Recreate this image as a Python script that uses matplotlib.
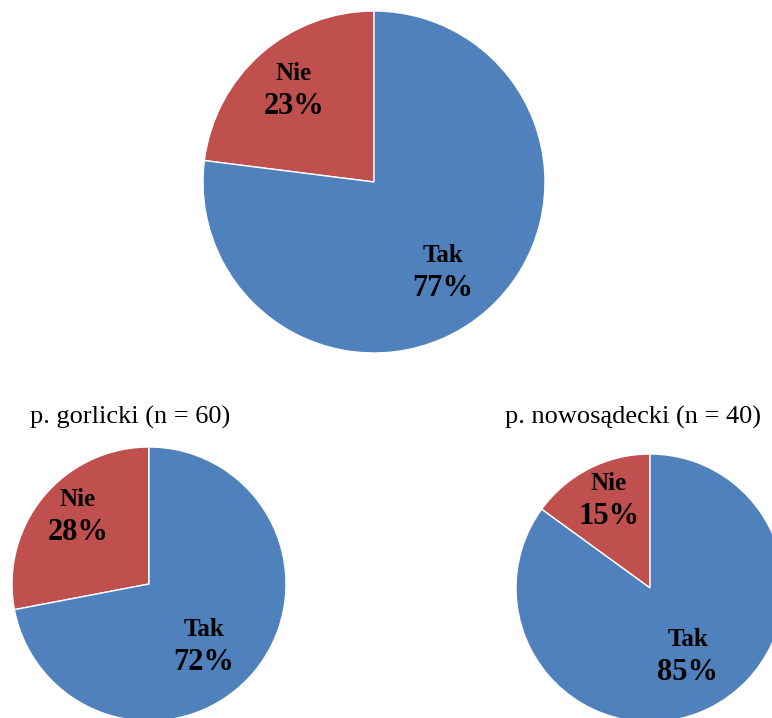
import matplotlib.pyplot as plt

plt.rcParams['font.family'] = ['Liberation Serif', 'DejaVu Serif']

categories = ['Nie', 'Tak']
total_values = [23, 77]
gorlicki_values = [28, 72]
nowosadecki_values = [15, 85]
subtitles = ['p. gorlicki (n = 60)', 'p. nowosądecki (n = 40)']

colors = ['#C0504D', '#4F81BD']
W, H = 772, 718

fig = plt.figure(figsize=(W / 100, H / 100), dpi=100)
ax = fig.add_axes([0, 0, 1, 1])

# (values, center in pixels, radius, label anchors in pixels)
pies = [
    (total_values, (374, 182), 171, [(294, 89), (443, 272)]),
    (gorlicki_values, (149, 584), 137, [(78, 515), (204, 645)]),
    (nowosadecki_values, (650, 588), 134, [(609, 499), (688, 656)]),
]

for vals, (cx, cy), r, anchors in pies:
    ax.pie(vals, colors=colors, startangle=90, counterclock=True,
           center=(cx, H - cy), radius=r,
           wedgeprops=dict(edgecolor='white', linewidth=1))
    for name, v, (lx, ly) in zip(categories, vals, anchors):
        ax.text(lx, H - ly + 16, name, ha='center', va='center',
                fontsize=18, fontweight='bold')
        ax.text(lx, H - ly - 17, f'{v}%', ha='center', va='center',
                fontsize=22, fontweight='bold')

ax.text(130, H - 417, subtitles[0], ha='center', va='center', fontsize=19)
ax.text(633, H - 417, subtitles[1], ha='center', va='center', fontsize=19)

ax.set_xlim(0, W)
ax.set_ylim(0, H)
ax.set_axis_off()

fig.savefig('out.png', dpi=100)
